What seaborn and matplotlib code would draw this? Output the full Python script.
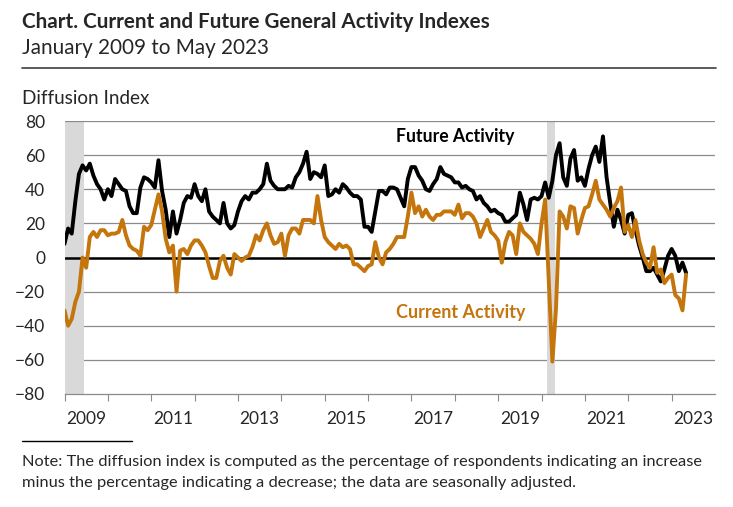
import numpy as np
import pandas as pd
import seaborn as sns
import matplotlib.pyplot as plt
from matplotlib.lines import Line2D

# monthly values, Jan 2009 .. May 2023
future = [
    8, 17, 14, 33, 49, 54, 51, 55, 48, 43, 40, 34,          # 2009
    40, 36, 46, 43, 40, 39, 30, 26, 26, 41, 47, 46,         # 2010
    44, 41, 57, 39, 28, 12, 27, 14, 22, 32, 36, 35,         # 2011
    43, 36, 33, 40, 27, 24, 22, 20, 32, 20, 17, 19,         # 2012
    27, 33, 36, 34, 38, 38, 40, 43, 55, 45, 42, 40,         # 2013
    40, 40, 42, 41, 47, 50, 55, 62, 46, 50, 49, 47,         # 2014
    54, 36, 37, 40, 38, 43, 41, 38, 36, 36, 34, 18,         # 2015
    18, 15, 27, 39, 39, 37, 41, 41, 40, 35, 30, 46,         # 2016
    53, 53, 48, 45, 40, 39, 43, 46, 53, 49, 48, 47,         # 2017
    44, 44, 41, 42, 40, 39, 34, 36, 32, 30, 27, 28,         # 2018
    26, 25, 21, 21, 23, 25, 38, 31, 22, 34, 35, 34,         # 2019
    36, 44, 35, 45, 60, 67, 47, 42, 58, 63, 45, 47,         # 2020
    42, 52, 60, 65, 56, 71, 47, 32, 18, 28, 22, 14,         # 2021
    25, 26, 16, 7, 0, -8, -8, -6, -10, -14, -7, 1,          # 2022
    5, 1, -8, -3, -9,                                       # 2023
]
current = [
    -31, -40, -36, -26, -20, 0, -6, 12, 15, 12, 16, 16,     # 2009
    13, 14, 14, 15, 22, 13, 7, 5, 4, 1, 18, 16,             # 2010
    19, 28, 37, 27, 11, 3, 7, -20, 4, 5, 2, 7,              # 2011
    10, 10, 7, 3, -5, -12, -12, -2, 1, -6, -10, 2,          # 2012
    0, -2, 0, 1, 6, 13, 10, 16, 20, 13, 8, 9,               # 2013
    14, 1, 13, 17, 17, 14, 22, 22, 22, 20, 36, 22,          # 2014
    12, 9, 7, 5, 8, 6, 7, 5, -4, -4, -6, -8,                # 2015
    -5, -4, 9, 0, -4, 3, 5, 8, 12, 12, 12, 24,              # 2016
    38, 26, 30, 24, 28, 24, 22, 25, 25, 27, 27, 27,         # 2017
    25, 31, 23, 26, 26, 24, 20, 12, 17, 22, 15, 13,         # 2018
    10, -3, 9, 15, 13, 2, 20, 15, 13, 11, 8, 2,             # 2019
    20, 34, -14, -61, -30, 27, 24, 17, 30, 29, 14, 22,      # 2020
    29, 30, 37, 45, 34, 31, 28, 24, 29, 33, 41, 15,         # 2021
    19, 12, 22, 10, 2, -3, -6, 6, -9, -7, -15, -12,         # 2022
    -10, -22, -24, -31, -10,                                # 2023
]
recessions = [(2009.0, 2009.45), (2020.12, 2020.30)]
year_labels = [str(y) for y in range(2009, 2024, 2)]

months = np.arange(len(future))
df = pd.DataFrame({
    "year": np.concatenate([2009 + months / 12, 2009 + months / 12]),
    "value": future + current,
    "series": ["Future"] * len(future) + ["Current"] * len(current),
})

sns.set_style("white")
plt.rcParams["font.family"] = ["Lato", "DejaVu Sans"]

orange = "#C4750C"
fig = plt.figure(figsize=(7.33, 5.07), dpi=100)
ax = fig.add_axes([64.5 / 733, 1 - 394 / 507, (715 - 64.5) / 733, (394 - 121) / 507])

for yv in range(-60, 80, 20):
    ax.axhline(yv, color="#8a8a8a", lw=0.9, zorder=0.5)
for a, b in recessions:
    ax.axvspan(a, b, color="#d9d9d9", lw=0, zorder=1)
ax.axhline(80, color="#8a8a8a", lw=0.9, zorder=2)
ax.axhline(0, color="black", lw=1.8, zorder=2)

sns.lineplot(data=df, x="year", y="value", hue="series",
             palette={"Future": "black", "Current": orange},
             linewidth=2.8, legend=False, ax=ax, zorder=3)

ax.set_xlim(2009, 2024)
ax.set_ylim(-80, 80)
ax.set_yticks(range(-80, 81, 20))
ax.set_xticks(range(2009, 2024))
ax.set_xticklabels([])
ax.set_xticks([y + 0.5 for y in range(2009, 2024, 2)], minor=True)
ax.set_xticklabels(year_labels, minor=True)
ax.tick_params(axis="x", which="major", direction="out", length=5, width=0.8,
               color="#8a8a8a", bottom=True)
ax.tick_params(axis="x", which="minor", length=0, pad=12, labelsize=12.5)
ax.tick_params(axis="y", length=0, pad=14, labelsize=12.5)
ax.set_xlabel("")
ax.set_ylabel("")
for s in ["left", "right", "top"]:
    ax.spines[s].set_visible(False)
ax.spines["bottom"].set_color("#8a8a8a")
ax.spines["bottom"].set_linewidth(0.9)
ax.spines["bottom"].set_zorder(2)

ax.text(2018.0, 71, "Future Activity", fontsize=12.7, fontweight="bold",
        color="black", ha="center", va="center")
ax.text(2018.13, -32, "Current Activity", fontsize=13, fontweight="bold",
        color=orange, ha="center", va="center")

fig.text(22 / 733, 1 - 22 / 507, "Chart. Current and Future General Activity Indexes",
         fontsize=14.9, fontweight="bold", va="center", ha="left")
fig.text(22 / 733, 1 - 48 / 507, "January 2009 to May 2023",
         fontsize=14.9, va="center", ha="left")
fig.add_artist(Line2D([22 / 733, 716 / 733], [1 - 68 / 507] * 2, color="#404040", lw=1.2))
fig.text(22 / 733, 1 - 98 / 507, "Diffusion Index", fontsize=13.6, va="center", ha="left")
fig.add_artist(Line2D([22 / 733, 132 / 733], [1 - 441 / 507] * 2, color="black", lw=1))
fig.text(22 / 733, 1 - 462 / 507,
         "Note: The diffusion index is computed as the percentage of respondents indicating an increase",
         fontsize=11.8, va="center", ha="left")
fig.text(22 / 733, 1 - 483 / 507,
         "minus the percentage indicating a decrease; the data are seasonally adjusted.",
         fontsize=11.8, va="center", ha="left")

fig.savefig("out.png", dpi=100)
